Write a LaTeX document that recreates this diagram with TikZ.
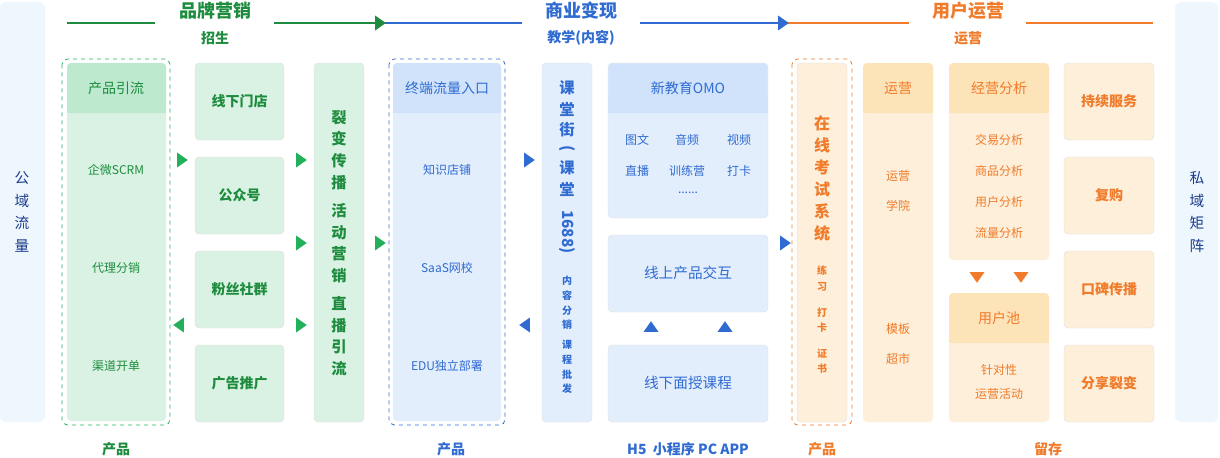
\documentclass[tikz,border=0pt]{standalone}
\usepackage{fontspec}
\usetikzlibrary{shapes.geometric}
\setmainfont{Noto Sans CJK SC}
\newcommand{\cjkb}{\bfseries}
\definecolor{gT}{HTML}{1E8C3E}\definecolor{gA}{HTML}{22B05A}
\definecolor{gH}{HTML}{BDE9CF}\definecolor{gB}{HTML}{DAF2E3}
\definecolor{bT}{HTML}{2F6BD1}\definecolor{bH}{HTML}{D0E3FB}\definecolor{bB}{HTML}{E3EEFD}
\definecolor{oT}{HTML}{F07B2A}\definecolor{oH}{HTML}{FDE3B8}\definecolor{oB}{HTML}{FDEFD9}
\definecolor{sT}{HTML}{1B3C8C}\definecolor{sB}{HTML}{EEF6FE}
\tikzset{
 card/.style={rounded corners=3pt,draw=black!12,line width=0.3pt},
 dbox/.style={dashed,rounded corners=4pt,line width=0.6pt},
 tri/.style={isosceles triangle,isosceles triangle apex angle=70,inner sep=0pt,minimum height=8pt,minimum width=11pt},
 hl/.style={line width=1.5pt},
 tt/.style={font=\fontsize{10.5}{12}\selectfont},
 ts/.style={font=\fontsize{9}{11}\selectfont},
 vt/.style={font=\fontsize{11.5}{16}\selectfont\cjkb,align=center},
 kch/.style={text=bT,inner sep=0pt,font=\fontsize{11.5}{12}\selectfont\cjkb},
}
\begin{document}
\begin{tikzpicture}[x=0.75pt,y=-0.75pt]
\useasboundingbox (0,0) rectangle (1220,457);
% side strips
\fill[sB,rounded corners=4pt] (0,2) rectangle (45,422);
\fill[sB,rounded corners=4pt] (1175,2) rectangle (1218,422);
\node[tt,text=sT,align=center,font=\fontsize{11}{17}\selectfont] (pub) at (22,212) {公\\域\\流\\量};
\node[tt,text=sT,align=center,font=\fontsize{11}{17}\selectfont] (pri) at (1197,212) {私\\域\\矩\\阵};
% headers
\node[text=gT,font=\fontsize{13.5}{15}\selectfont\cjkb] (h1) at (215,11) {品牌营销};
\node[text=gT,font=\fontsize{10.5}{12}\selectfont\cjkb] (s1) at (215,38) {招生};
\node[text=bT,font=\fontsize{13.5}{15}\selectfont\cjkb] (h2) at (581,11) {商业变现};
\node[text=bT,font=\fontsize{10.5}{12}\selectfont\cjkb] (s2) at (581,38) {教学(内容)};
\node[text=oT,font=\fontsize{13.5}{15}\selectfont\cjkb] (h3) at (968,11) {用户运营};
\node[text=oT,font=\fontsize{10.5}{12}\selectfont\cjkb] (s3) at (968,38) {运营};
\coordinate (g0) at (67,23);\coordinate (g1) at (155,23);\coordinate (g2) at (274,23);\coordinate (g3) at (383,23);
\coordinate (b0) at (383,23);\coordinate (b1) at (522,23);\coordinate (b2) at (640,23);\coordinate (b3) at (786,23);
\coordinate (o0) at (786,23);\coordinate (o1) at (909,23);\coordinate (o2) at (1026,23);\coordinate (o3) at (1153,23);
\draw[hl,gT] (g0)--(g1); \draw[hl,gT] (g2)--(g3);
\draw[hl,bT] (b0)--(b1); \draw[hl,bT] (b2)--(b3);
\draw[hl,oT] (o0)--(o1); \draw[hl,oT] (o2)--(o3);
\node[tri,fill=gT] at (379,23) {};
\node[tri,fill=bT] at (782,23) {};
% green dashed group
\draw[dbox,gA] (62,59) rectangle (170,425);
\fill[gB,rounded corners=3pt] (67,63) rectangle (166,421);
\fill[gH,rounded corners=3pt] (67,63) rectangle (166,113); \fill[gH] (67,100) rectangle (166,113);
\node[tt,text=gT] (p1) at (116,88) {产品引流};
\node[ts,text=gT] (p2) at (116,170) {企微SCRM};
\node[ts,text=gT] (p3) at (116,268) {代理分销};
\node[ts,text=gT] (p4) at (116,366) {渠道开单};
\foreach \y/\t/\n in {63/线下门店/c1,157/公众号/c2,251/粉丝社群/c3,345/广告推广/c4}{
 \draw[card,fill=gB] (195,\y) rectangle (284,\y+77);
 \node[tt,text=gT,font=\fontsize{10.5}{12}\selectfont\cjkb] (\n) at (239.5,\y+38.5) {\t};}
\draw[card,fill=gB] (314,63) rectangle (364,422);
\node[vt,text=gT,font=\fontsize{11.5}{16.2}\selectfont\cjkb] (lb) at (339,243) {裂\\变\\传\\播\\[5pt]活\\动\\营\\销\\[5pt]直\\播\\引\\流};
\node[tri,fill=gA] at (181,160) {};
\node[tri,fill=gA,rotate=180] at (180,325) {};
\foreach \y in {160,243,325} \node[tri,fill=gA] at (300,\y) {};
\node[tri,fill=gA] at (379,243) {};
% blue dashed group
\draw[dbox,bT] (389,59) rectangle (505,425);
\fill[bB,rounded corners=3pt] (393,63) rectangle (501,421);
\fill[bH,rounded corners=3pt] (393,63) rectangle (501,113); \fill[bH] (393,100) rectangle (501,113);
\node[tt,text=bT] (q1) at (447,88) {终端流量入口};
\node[ts,text=bT] (q2) at (447,170) {知识店铺};
\node[ts,text=bT] (q3) at (447,268) {SaaS网校};
\node[ts,text=bT] (q4) at (447,366) {EDU独立部署};
\node[tri,fill=bT] at (528,160) {};
\node[tri,fill=bT,rotate=180] at (526,325) {};
\draw[card,fill=bB] (542,63) rectangle (592,422);
\node[kch] (k1) at (567,88) {课};
\node[kch] (k2) at (567,109) {堂};
\node[kch] (k3) at (567,130) {街};
\node[kch,rotate=-90] (k4) at (567,149) {(};
\node[kch] (k5) at (567,168) {课};
\node[kch] (k6) at (567,189) {堂};
\node[kch,rotate=-90] (k7) at (567,232) {1688)};
\node[text=bT,align=center,font=\fontsize{7.5}{11}\selectfont\cjkb] (kt2) at (567,335) {内\\容\\分\\销\\[4pt]课\\程\\批\\发};
\draw[card,fill=bB] (608,63) rectangle (768,218);
\fill[bH,rounded corners=3pt] (608.3,63.3) rectangle (767.7,113); \fill[bH] (608.3,100) rectangle (767.7,113);
\node[tt,text=bT] (omo) at (688,88) {新教育OMO};
\node[ts,text=bT] at (637,140) {图文};\node[ts,text=bT] at (687,140) {音频};\node[ts,text=bT] at (739,140) {视频};
\node[ts,text=bT] at (637,171) {直播};\node[ts,text=bT] at (687,171) {训练营};\node[ts,text=bT] at (739,171) {打卡};
\node[ts,text=bT] at (688,193) {......};
\draw[card,fill=bB] (608,235) rectangle (768,312);
\node[tt,text=bT,font=\fontsize{11}{12}\selectfont] (on) at (688,273) {线上产品交互};
\draw[card,fill=bB] (608,345) rectangle (768,422);
\node[tt,text=bT,font=\fontsize{11}{12}\selectfont] (off) at (688,383) {线下面授课程};
\node[tri,fill=bT,rotate=90] at (651,328) {};
\node[tri,fill=bT,rotate=90] at (725,328) {};
\node[tri,fill=bT] at (784,243) {};
% orange
\draw[dbox,oT] (792,59) rectangle (852,425);
\draw[card,fill=oB] (797,63) rectangle (847,422);
\node[vt,text=oT,font=\fontsize{12}{16.5}\selectfont\cjkb] (ks) at (822,178) {在\\线\\考\\试\\系\\统};
\node[text=oT,align=center,font=\fontsize{7.5}{11.5}\selectfont\cjkb] (ks2) at (822,320) {练\\习\\[8pt]打\\卡\\[8pt]证\\书};
\fill[oB,rounded corners=3pt] (863,63) rectangle (933,422);
\fill[oH,rounded corners=3pt] (863,63) rectangle (933,113); \fill[oH] (863,100) rectangle (933,113);
\node[tt,text=oT] (yy) at (898,88) {运营};
\node[ts,text=oT,align=center,font=\fontsize{9}{23}\selectfont] at (898,191) {运营\\学院};
\node[ts,text=oT,align=center,font=\fontsize{9}{23}\selectfont] at (898,344) {模板\\超市};
\fill[oB,rounded corners=3pt] (949,63) rectangle (1049,260);
\fill[oH,rounded corners=3pt] (949,63) rectangle (1049,113); \fill[oH] (949,100) rectangle (1049,113);
\node[tt,text=oT] (jy) at (999,88) {经营分析};
\node[ts,text=oT,align=center,font=\fontsize{9}{23.3}\selectfont] at (999,186.5) {交易分析\\商品分析\\用户分析\\流量分析};
\node[tri,fill=oT,rotate=-90] at (977,276) {};
\node[tri,fill=oT,rotate=-90] at (1021,276) {};
\fill[oB,rounded corners=3pt] (949,293) rectangle (1049,422);
\fill[oH,rounded corners=3pt] (949,293) rectangle (1049,343); \fill[oH] (949,330) rectangle (1049,343);
\node[tt,text=oT] (uc) at (999,318) {用户池};
\node[ts,text=oT,align=center,font=\fontsize{9}{18}\selectfont] at (999,382) {针对性\\运营活动};
\foreach \y/\t/\n in {63/持续服务/r1,157/复购/r2,251/口碑传播/r3,345/分享裂变/r4}{
 \draw[card,fill=oB] (1064,\y) rectangle (1154,\y+77);
 \node[text=oT,font=\fontsize{10.5}{12}\selectfont\cjkb] (\n) at (1109,\y+38.5) {\t};}
% bottom labels
\node[text=gT,font=\fontsize{10.5}{12}\selectfont\cjkb] (f1) at (116,449) {产品};
\node[text=bT,font=\fontsize{10.5}{12}\selectfont\cjkb] (f2) at (451,449) {产品};
\node[text=bT,font=\fontsize{10.5}{12}\selectfont\cjkb] (f3) at (688,449) {H5\ \ 小程序\ PC APP};
\node[text=oT,font=\fontsize{10.5}{12}\selectfont\cjkb] (f4) at (822,449) {产品};
\node[text=oT,font=\fontsize{10.5}{12}\selectfont\cjkb] (f5) at (1048,449) {留存};
\end{tikzpicture}
\end{document}
